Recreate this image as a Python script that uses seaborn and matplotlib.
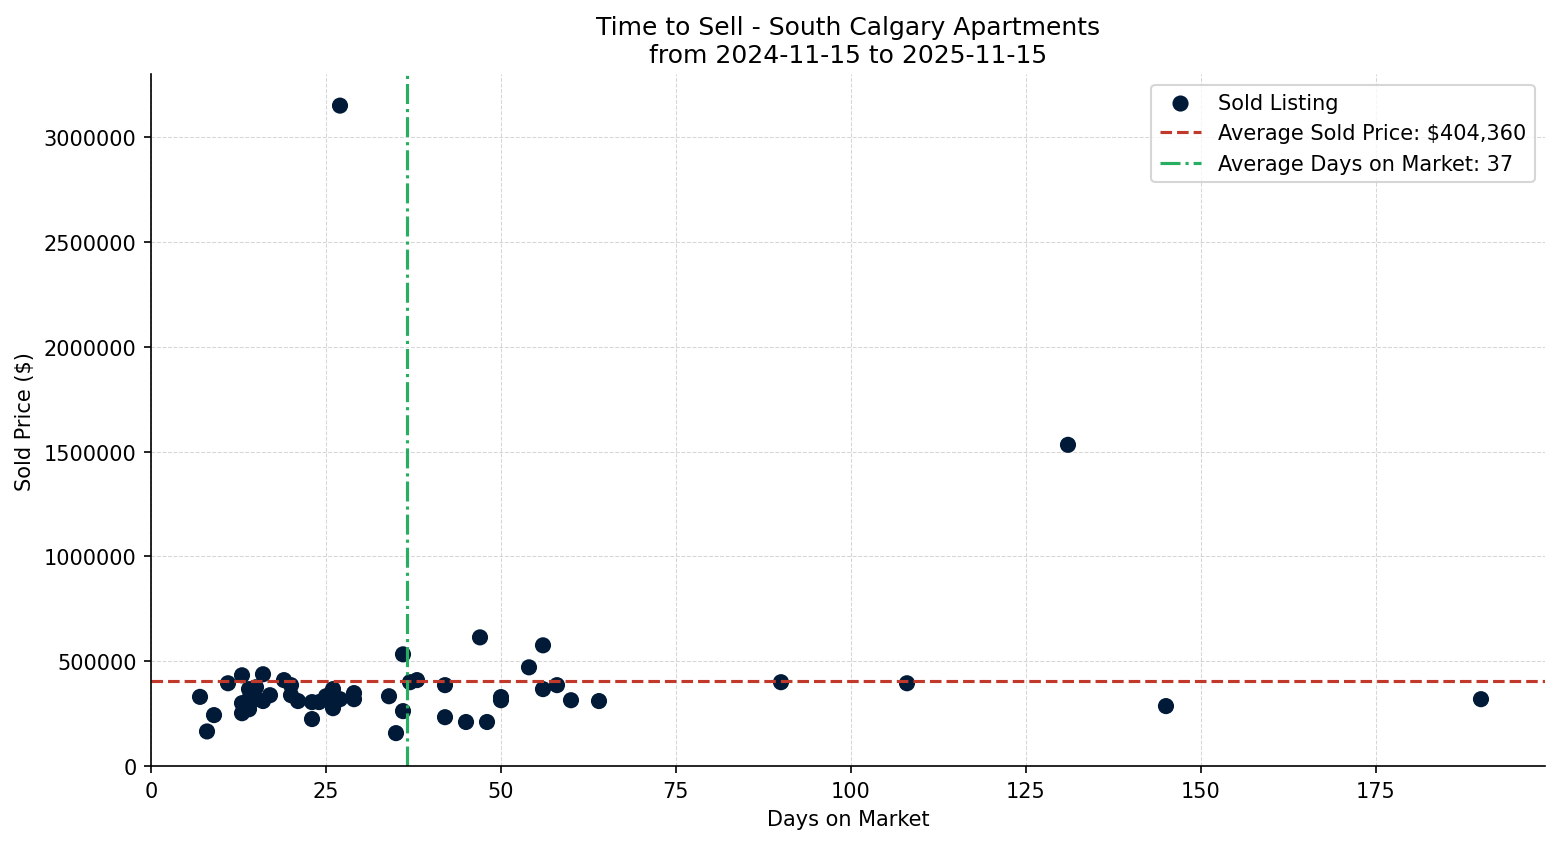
import seaborn as sns
import matplotlib.pyplot as plt
import pandas as pd

# days on market / sold price for each sold listing
days_on_market = [7, 8, 9, 11, 13, 13, 13, 14, 14, 14, 15, 15, 16, 16, 17,
                  19, 20, 20, 21, 23, 23, 24, 25, 26, 26, 27, 27, 29, 29,
                  34, 35, 36, 36, 37, 38, 42, 42, 45, 47, 48, 50, 50, 54,
                  56, 56, 58, 60, 64, 90, 108, 131, 145, 190]
sold_price = [330000, 165000, 243000, 395000, 433000, 300000, 252000,
              367000, 271000, 319000, 376000, 319000, 438000, 310000,
              338000, 410000, 386000, 338000, 310000, 305000, 224000,
              305000, 333000, 367000, 276000, 319000, 3152000, 348000,
              319000, 333000, 157000, 533000, 262000, 400000, 410000,
              386000, 233000, 210000, 614000, 210000, 329000, 314000,
              471000, 576000, 367000, 386000, 314000, 310000, 400000,
              395000, 1533000, 286000, 319000]

avg_price = 404360
avg_days = 36.6

start_date = '2024-11-15'
end_date = '2025-11-15'


def main():
    df = pd.DataFrame({'Days on Market': days_on_market,
                       'Sold Price': sold_price})
    fig, ax = plt.subplots(figsize=(10.4, 5.633), dpi=150)
    fig.subplots_adjust(left=0.0968, right=0.9904, top=0.911, bottom=0.0923)

    # dots first so the average lines sit on top of them
    sns.scatterplot(data=df, x='Days on Market', y='Sold Price', ax=ax,
                    color='#001a38', s=60, edgecolor='none',
                    label='Sold Listing')
    ax.axhline(avg_price, color='#c0392b', linestyle='--', linewidth=1.5,
               label=f'Average Sold Price: ${avg_price:,.0f}')
    ax.axvline(avg_days, color='#27ae60', linestyle='-.', linewidth=1.5,
               label=f'Average Days on Market: {avg_days:.0f}')

    ax.set_xlim(left=0)
    ax.set_ylim(bottom=0)
    ax.ticklabel_format(axis='y', style='plain')
    ax.grid(True, linestyle='--', linewidth=0.5, color='#cccccc', alpha=0.8)
    ax.set_axisbelow(True)
    sns.despine(ax=ax)

    ax.set_title('Time to Sell - South Calgary Apartments\n'
                 f'from {start_date} to {end_date}', fontsize=12)
    ax.set_xlabel('Days on Market')
    ax.set_ylabel('Sold Price ($)')
    ax.legend(loc='upper right')

    fig.savefig('out.png', dpi=150)


if __name__ == '__main__':
    main()
